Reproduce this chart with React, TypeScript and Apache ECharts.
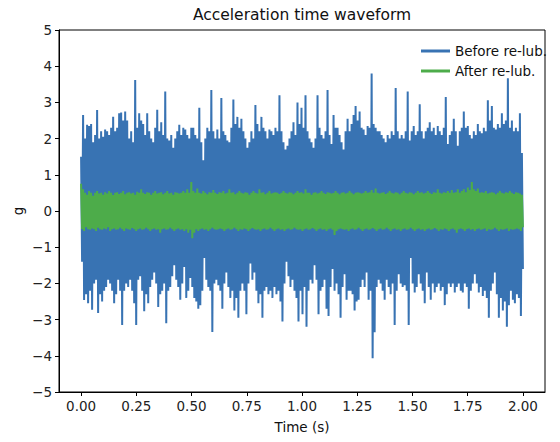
import React, { useEffect, useRef } from "react";
import * as echarts from "echarts";

// Sample time span (s) and tick positions
const T_END = 2.0;
const xTicks = [0, 0.25, 0.5, 0.75, 1.0, 1.25, 1.5, 1.75, 2.0];
const yTicks = [-5, -4, -3, -2, -1, 0, 1, 2, 3, 4, 5];

// "Before re-lub." — positive and negative swings (alternating samples)
const beforeUp = [
  1.5, 2.65, 2.0, 2.38, 2.35, 2.4, 1.9, 2.1, 2.79, 2.0,
  2.2, 2.05, 2.25, 2.2, 2.1, 2.3, 2.6, 2.2, 2.3, 2.7,
  2.72, 2.5, 2.75, 2.5, 2.0, 2.2, 1.9, 3.62, 2.3, 2.7,
  2.5, 2.4, 2.1, 2.7, 2.2, 2.0, 1.9, 2.3, 2.8, 2.2,
  2.45, 2.1, 3.3, 2.0, 1.95, 2.1, 1.75, 2.0, 2.2, 2.38,
  2.1, 2.3, 2.25, 2.1, 2.0, 2.3, 2.3, 2.1, 2.0, 2.85,
  1.9, 1.4, 2.0, 2.3, 2.2, 3.34, 2.2, 2.0, 2.25, 2.0,
  3.12, 2.2, 2.1, 1.95, 1.9, 2.3, 3.08, 2.4, 2.6, 2.3,
  2.55, 2.2, 2.0, 1.75, 1.9, 2.2, 2.0, 2.93, 2.4, 2.2,
  2.6, 2.3, 2.2, 2.0, 2.25, 2.2, 2.1, 2.3, 2.2, 3.2,
  2.2, 1.9, 1.7, 1.8, 2.0, 2.2, 2.45, 2.1, 3.0, 2.4,
  2.85, 2.3, 3.2, 2.2, 2.0, 1.9, 1.75, 2.0, 3.2, 2.3,
  2.1, 2.0, 2.2, 3.34, 2.1, 1.85, 2.65, 2.3, 2.3, 2.1,
  1.9, 1.7, 2.2, 2.55, 2.2, 2.4, 2.65, 2.9, 2.5, 2.75,
  2.3, 2.25, 2.1, 2.35, 2.3, 3.8, 2.4, 2.3, 2.2, 2.2,
  2.1, 2.0, 1.9, 2.1, 2.0, 2.2, 2.1, 3.4, 2.2, 2.0,
  2.1, 2.0, 2.2, 3.3, 1.95, 2.2, 2.35, 2.1, 2.2, 2.95,
  2.2, 2.0, 2.2, 2.3, 2.45, 2.2, 2.3, 2.1, 2.35, 2.2,
  2.1, 2.3, 3.15, 1.85, 2.1, 2.2, 2.55, 2.2, 1.8, 2.2,
  2.3, 2.75, 2.3, 2.35, 2.1, 2.0, 2.2, 2.1, 2.4, 2.2,
  2.15, 2.3, 2.2, 3.06, 2.5, 2.9, 2.3, 2.25, 2.4, 2.3,
  2.7, 2.4, 2.5, 3.67, 2.3, 2.5, 2.2, 2.3, 2.2, 2.7,
  1.6,
];
const beforeDown = [
  -1.4, -2.46, -2.3, -2.55, -2.2, -2.73, -2.0, -1.9, -2.82, -2.3,
  -2.5, -2.2, -2.1, -1.9, -2.0, -2.2, -2.55, -2.3, -1.9, -2.2,
  -3.15, -2.2, -2.0, -2.1, -1.9, -2.2, -2.55, -3.15, -1.9, -1.8,
  -2.2, -2.77, -2.3, -2.55, -2.1, -1.9, -1.7, -2.0, -2.65, -2.3,
  -2.2, -2.0, -3.1, -2.2, -2.1, -1.8, -1.5, -1.9, -2.1, -2.45,
  -2.0, -1.55, -2.4, -2.2, -1.85, -2.1, -2.4, -2.5, -2.7, -2.6,
  -2.2, -1.3, -1.9, -2.1, -2.2, -3.34, -2.0, -1.9, -2.05, -2.2,
  -2.7, -2.0, -1.7, -2.1, -2.4, -2.2, -2.75, -2.4, -2.95, -2.2,
  -2.0, -2.2, -2.85, -2.0, -1.45, -1.9, -1.7, -2.2, -2.55, -2.3,
  -2.95, -2.2, -2.1, -2.3, -2.2, -2.4, -2.1, -2.3, -2.2, -2.5,
  -3.05, -2.0, -1.4, -1.8, -2.1, -1.9, -2.2, -2.4, -3.05, -2.2,
  -2.85, -2.1, -3.2, -2.2, -1.9, -2.0, -1.5, -1.9, -2.85, -2.2,
  -2.1, -1.9, -2.7, -2.9, -2.1, -1.6, -2.2, -2.0, -2.3, -2.95,
  -2.1, -1.75, -2.45, -2.2, -2.2, -2.3, -2.75, -2.5, -2.45, -2.1,
  -1.9, -2.1, -1.7, -2.45, -2.2, -4.07, -3.35, -2.1, -1.9, -2.0,
  -2.2, -2.45, -1.9, -2.1, -2.3, -2.0, -3.15, -2.2, -1.75, -2.0,
  -2.1, -2.05, -2.2, -3.15, -1.3, -2.0, -2.25, -2.1, -1.75, -2.0,
  -2.2, -2.55, -1.7, -2.1, -2.45, -2.0, -2.25, -2.1, -2.0, -2.2,
  -2.1, -2.6, -2.3, -2.0, -2.1, -2.0, -2.25, -2.1, -2.0, -2.2,
  -2.25, -2.0, -2.1, -2.7, -2.2, -2.0, -1.75, -2.0, -2.25, -2.1,
  -2.35, -2.2, -2.4, -2.95, -2.2, -2.0, -1.7, -2.3, -2.95, -2.4,
  -2.75, -2.5, -3.2, -2.6, -2.2, -2.45, -2.55, -2.3, -2.4, -2.9,
  -1.6,
];

// "After re-lub." — positive and negative swings
const afterUp = [
  0.75, 0.6, 0.5, 0.45, 0.55, 0.5, 0.42, 0.5, 0.55, 0.48,
  0.5, 0.45, 0.52, 0.48, 0.55, 0.5, 0.44, 0.5, 0.52, 0.47,
  0.5, 0.55, 0.46, 0.5, 0.52, 0.48, 0.5, 0.45, 0.53, 0.5,
  0.6, 0.5, 0.47, 0.52, 0.5, 0.45, 0.5, 0.55, 0.48, 0.5,
  0.52, 0.46, 0.5, 0.55, 0.48, 0.5, 0.45, 0.52, 0.5, 0.48,
  0.5, 0.55, 0.5, 0.6, 0.5, 0.8, 0.55, 0.5, 0.62, 0.5,
  0.48, 0.55, 0.5, 0.46, 0.52, 0.5, 0.58, 0.5, 0.47, 0.52,
  0.5, 0.55, 0.48, 0.5, 0.6, 0.5, 0.52, 0.46, 0.5, 0.55,
  0.5, 0.48, 0.52, 0.5, 0.45, 0.5, 0.55, 0.5, 0.48, 0.6,
  0.5, 0.52, 0.46, 0.5, 0.55, 0.48, 0.5, 0.52, 0.5, 0.47,
  0.5, 0.55, 0.5, 0.48, 0.52, 0.5, 0.46, 0.5, 0.55, 0.5,
  0.52, 0.48, 0.6, 0.5, 0.5, 0.45, 0.5, 0.52, 0.48, 0.5,
  0.55, 0.5, 0.47, 0.52, 0.5, 0.48, 0.5, 0.55, 0.5, 0.46,
  0.5, 0.52, 0.48, 0.5, 0.55, 0.5, 0.46, 0.5, 0.52, 0.5,
  0.48, 0.5, 0.55, 0.5, 0.52, 0.58, 0.5, 0.62, 0.5, 0.48,
  0.5, 0.52, 0.47, 0.5, 0.55, 0.5, 0.48, 0.52, 0.5, 0.46,
  0.5, 0.55, 0.5, 0.48, 0.52, 0.5, 0.46, 0.5, 0.55, 0.5,
  0.52, 0.48, 0.5, 0.55, 0.5, 0.47, 0.52, 0.5, 0.6, 0.5,
  0.48, 0.52, 0.5, 0.55, 0.5, 0.58, 0.5, 0.52, 0.6, 0.5,
  0.55, 0.6, 0.52, 0.65, 0.58, 0.8, 0.6, 0.55, 0.62, 0.5,
  0.52, 0.5, 0.55, 0.48, 0.5, 0.52, 0.5, 0.46, 0.5, 0.55,
  0.5, 0.48, 0.52, 0.5, 0.55, 0.5, 0.47, 0.52, 0.5, 0.48,
  0.45,
];
const afterDown = [
  -0.5, -0.55, -0.45, -0.5, -0.52, -0.48, -0.5, -0.55, -0.46, -0.5,
  -0.52, -0.48, -0.5, -0.45, -0.55, -0.5, -0.48, -0.52, -0.5, -0.46,
  -0.5, -0.55, -0.48, -0.5, -0.52, -0.47, -0.5, -0.55, -0.5, -0.48,
  -0.52, -0.5, -0.46, -0.5, -0.55, -0.5, -0.48, -0.52, -0.5, -0.6,
  -0.5, -0.48, -0.52, -0.5, -0.46, -0.5, -0.55, -0.5, -0.48, -0.52,
  -0.5, -0.55, -0.5, -0.6, -0.52, -0.75, -0.6, -0.5, -0.55, -0.5,
  -0.48, -0.52, -0.5, -0.55, -0.5, -0.46, -0.5, -0.52, -0.5, -0.48,
  -0.5, -0.55, -0.5, -0.48, -0.52, -0.5, -0.46, -0.5, -0.55, -0.5,
  -0.52, -0.48, -0.5, -0.55, -0.5, -0.47, -0.5, -0.52, -0.5, -0.55,
  -0.5, -0.48, -0.52, -0.5, -0.46, -0.5, -0.55, -0.5, -0.48, -0.52,
  -0.5, -0.55, -0.5, -0.48, -0.52, -0.5, -0.46, -0.5, -0.52, -0.5,
  -0.55, -0.5, -0.48, -0.52, -0.5, -0.47, -0.5, -0.55, -0.5, -0.48,
  -0.52, -0.5, -0.55, -0.5, -0.48, -0.52, -0.66, -0.55, -0.5, -0.48,
  -0.5, -0.52, -0.5, -0.55, -0.5, -0.48, -0.52, -0.5, -0.46, -0.5,
  -0.55, -0.5, -0.48, -0.52, -0.5, -0.47, -0.5, -0.55, -0.5, -0.48,
  -0.52, -0.5, -0.46, -0.5, -0.55, -0.5, -0.48, -0.52, -0.5, -0.55,
  -0.5, -0.48, -0.52, -0.5, -0.46, -0.5, -0.55, -0.5, -0.48, -0.52,
  -0.5, -0.55, -0.5, -0.48, -0.52, -0.5, -0.47, -0.5, -0.55, -0.5,
  -0.52, -0.48, -0.5, -0.55, -0.5, -0.48, -0.52, -0.6, -0.5, -0.48,
  -0.5, -0.55, -0.5, -0.48, -0.52, -0.5, -0.55, -0.5, -0.48, -0.52,
  -0.5, -0.48, -0.55, -0.5, -0.52, -0.5, -0.46, -0.5, -0.55, -0.5,
  -0.52, -0.5, -0.48, -0.55, -0.5, -0.52, -0.5, -0.48, -0.5, -0.55,
  -0.45,
];

function interleave(up: number[], down: number[]): number[][] {
  const n = up.length * 2;
  const dt = T_END / (n - 1);
  const out: number[][] = [];
  for (let k = 0; k < up.length; k++) {
    out.push([2 * k * dt, up[k]]);
    out.push([(2 * k + 1) * dt, down[k]]);
  }
  return out;
}

const FONT = "DejaVu Sans";

export default function App() {
  const ref = useRef<HTMLDivElement>(null);
  useEffect(() => {
    if (!ref.current) return;
    const chart = echarts.init(ref.current, null, { renderer: "svg" });
    chart.setOption({
      animation: false,
      backgroundColor: "#ffffff",
      grid: {
        left: 59,
        right: 15,
        top: 30,
        bottom: 50,
        show: true,
        borderColor: "#000",
        borderWidth: 1,
        backgroundColor: "transparent",
      },
      legend: {
        left: 421,
        top: 44,
        padding: 0,
        orient: "vertical",
        icon: "rect",
        itemWidth: 29,
        itemHeight: 3,
        itemGap: 6,
        textStyle: { fontFamily: FONT, fontSize: 13.5, color: "#111" },
        data: ["Before re-lub.", "After re-lub."],
      },
      xAxis: {
        type: "value",
        min: -0.1,
        max: 2.1,
        axisLine: { show: true, onZero: false, lineStyle: { color: "#000", width: 1 } },
        splitLine: { show: false },
        axisTick: {
          show: true,
          length: 4,
          customValues: xTicks,
          lineStyle: { color: "#000" },
        },
        axisLabel: {
          customValues: xTicks,
          margin: 7,
          fontFamily: FONT,
          fontSize: 13.5,
          color: "#222",
          formatter: (v: number) => v.toFixed(2),
        },
      },
      yAxis: {
        type: "value",
        min: -5,
        max: 5,
        interval: 1,
        axisLine: { show: true, onZero: false, lineStyle: { color: "#000", width: 1 } },
        splitLine: { show: false },
        axisTick: { show: true, length: 4, lineStyle: { color: "#000" } },
        axisLabel: {
          customValues: yTicks,
          margin: 7,
          fontFamily: FONT,
          fontSize: 13.5,
          color: "#222",
          formatter: (v: number) => (v < 0 ? "\u2212" + Math.abs(v) : String(v)),
        },
      },
      graphic: [
        {
          type: "text",
          x: 302,
          y: 15,
          style: {
            text: "Acceleration time waveform",
            font: `15.5px "${FONT}"`,
            fill: "#111",
            textAlign: "center",
            textVerticalAlign: "middle",
          },
        },
        {
          type: "text",
          x: 302,
          y: 427,
          style: {
            text: "Time (s)",
            font: `13.5px "${FONT}"`,
            fill: "#111",
            textAlign: "center",
            textVerticalAlign: "middle",
          },
        },
        {
          type: "text",
          x: 18,
          y: 211,
          rotation: Math.PI / 2,
          style: {
            text: "g",
            font: `13.5px "${FONT}"`,
            fill: "#111",
            textAlign: "center",
            textVerticalAlign: "middle",
          },
        },
      ],
      series: [
        {
          name: "Before re-lub.",
          type: "line",
          data: interleave(beforeUp, beforeDown),
          showSymbol: false,
          symbol: "none",
          color: "#3873b3",
          lineStyle: { width: 2, color: "#3873b3", join: "bevel" },
          silent: true,
          z: 2,
        },
        {
          name: "After re-lub.",
          type: "line",
          data: interleave(afterUp, afterDown),
          showSymbol: false,
          symbol: "none",
          color: "#4dac4a",
          lineStyle: { width: 2, color: "#4dac4a", join: "bevel" },
          silent: true,
          z: 3,
        },
      ],
    });
    return () => chart.dispose();
  }, []);
  return (
    <div
      ref={ref}
      style={{ position: "absolute", left: 0, top: 0, width: 560, height: 442, background: "#fff" }}
    />
  );
}
